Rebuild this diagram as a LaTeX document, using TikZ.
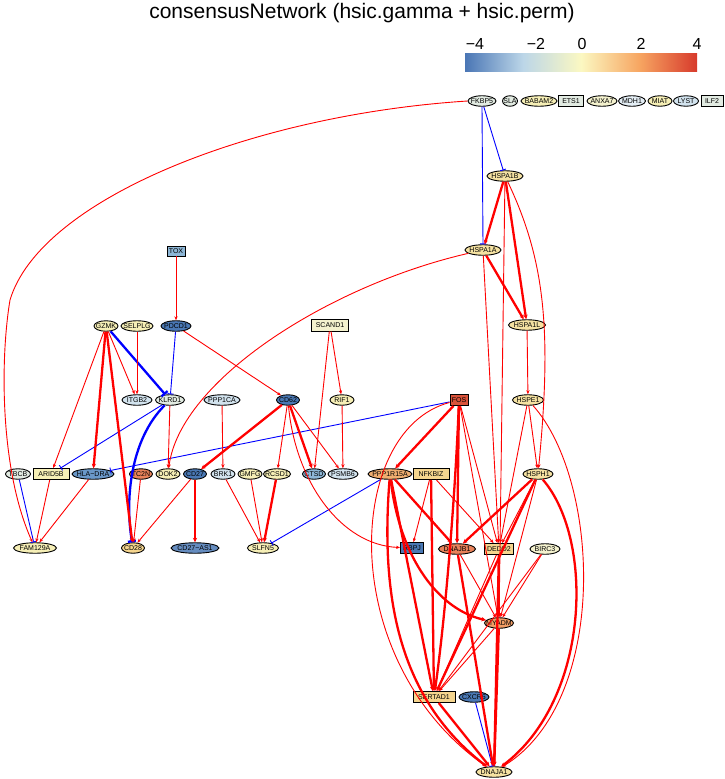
\documentclass[tikz,border=0pt]{standalone}
\usepackage{fontspec}
\setmainfont{Liberation Sans}
\usetikzlibrary{shapes.geometric,arrows.meta}
\newcommand{\zt}[1]{\makebox[0pt][c]{#1}}
\definecolor{cb0}{HTML}{4A76B5}
\definecolor{cb1}{HTML}{BCD6E8}
\definecolor{cb2}{HTML}{FBF8C2}
\definecolor{cb3}{HTML}{F7A662}
\definecolor{cb4}{HTML}{D73A2C}
\pgfdeclarehorizontalshading{rdylbu}{100bp}{color(0bp)=(cb0); color(25bp)=(cb0); color(37.5bp)=(cb1); color(50bp)=(cb2); color(62.5bp)=(cb3); color(75bp)=(cb4); color(100bp)=(cb4)}
\definecolor{dkb}{HTML}{4A78B4}
\definecolor{mdb}{HTML}{6A98C8}
\definecolor{ltb}{HTML}{8DB6D6}
\definecolor{plb}{HTML}{D2E3EE}
\definecolor{grn}{HTML}{E2EBE2}
\definecolor{lyl}{HTML}{F6EFB6}
\definecolor{yel}{HTML}{F5E2A2}
\definecolor{org}{HTML}{F5D58E}
\definecolor{ora}{HTML}{F0AE70}
\definecolor{rdo}{HTML}{E8825A}
\definecolor{red2}{HTML}{D9533A}
\definecolor{pal}{HTML}{F4F2CE}
\begin{document}
\begin{tikzpicture}[x=1pt,y=-1pt,
  every node/.style={font=\fontsize{7}{8}\selectfont, text=black, inner sep=0pt},
  en/.style={ellipse, draw=black, line width=0.9pt, minimum height=10.5pt, minimum width=#1},
  bn/.style={rectangle, draw=black, line width=0.9pt, minimum height=11pt, minimum width=#1},
  rt/.style={draw=red, line width=0.9pt, -{Stealth[length=4pt,width=3.2pt]}},
  rT/.style={draw=red, line width=2.3pt, -{Stealth[length=4.5pt,width=4.2pt]}},
  bt/.style={draw=blue, line width=0.9pt, -{Bar[width=6pt]}},
  bT/.style={draw=blue, line width=2.3pt, -{Bar[width=8pt]}},
]
\useasboundingbox (0,0) rectangle (725,779);
% title
\node (title) at (362,13) {\fontsize{21}{24}\selectfont consensusNetwork (hsic.gamma + hsic.perm)};
% colour bar
\shade[shading=rdylbu] (465,53) rectangle (697,71);
\node (t1) at (475,44) {\fontsize{16}{18}\selectfont −4};
\node (t2) at (536,44) {\fontsize{16}{18}\selectfont −2};
\node (t3) at (582,44) {\fontsize{16}{18}\selectfont 0};
\node (t4) at (641,44) {\fontsize{16}{18}\selectfont 2};
\node (t5) at (697,44) {\fontsize{16}{18}\selectfont 4};
% top row
\node[en=28,fill=grn] (FKBP5) at (482,101) {\zt{FKBP5}};
\node[en=15,fill=grn] (SLA) at (510,101) {\zt{SLA}};
\node[en=36,fill=lyl] (BABAM2) at (539,101) {\zt{BABAM2}};
\node[bn=25,fill=grn] (ETS1) at (571,101) {\zt{ETS1}};
\node[en=30,fill=pal] (ANXA7) at (602,101) {\zt{ANXA7}};
\node[en=27,fill=plb!60!white] (MDH1) at (632,101) {\zt{MDH1}};
\node[en=24,fill=lyl] (MIAT) at (660,101) {\zt{MIAT}};
\node[en=25,fill=plb] (LYST) at (686,101) {\zt{LYST}};
\node[bn=22,fill=grn] (ILF2) at (712,101) {\zt{ILF2}};
% heat shock
\node[en=36,fill=yel] (HSPA1B) at (505,176) {\zt{HSPA1B}};
\node[en=36,fill=yel] (HSPA1A) at (483,250) {\zt{HSPA1A}};
\node[en=37,fill=yel] (HSPA1L) at (527,325) {\zt{HSPA1L}};
\node[en=31,fill=yel] (HSPE1) at (528,400) {\zt{HSPE1}};
\node[en=30,fill=yel] (HSPH1) at (538,474) {\zt{HSPH1}};
% left
\node[bn=18,minimum height=10pt,fill=ltb] (TOX) at (176,251) {\zt{TOX}};
\node[en=24,fill=lyl] (GZMK) at (106,326) {\zt{GZMK}};
\node[en=32,fill=lyl] (SELPLG) at (137,326) {\zt{SELPLG}};
\node[en=30,fill=dkb] (PDCD1) at (176,326) {\zt{PDCD1}};
\node[bn=37,minimum height=12pt,fill=pal] (SCAND1) at (330,325) {\zt{SCAND1}};
\node[en=30,fill=plb] (ITGB2) at (137,400) {\zt{ITGB2}};
\node[en=29,fill=grn] (KLRD1) at (170,400) {\zt{KLRD1}};
\node[en=36,fill=plb] (PPP1CA) at (222,400) {\zt{PPP1CA}};
\node[en=23,fill=dkb] (CD62) at (288,400) {\zt{CD62}};
\node[en=24,fill=lyl] (RIF1) at (342,400) {\zt{RIF1}};
\node[bn=18,fill=red2] (FOS) at (459,400) {\zt{FOS}};
% row 474
\node[en=25,fill=grn] (TBCB) at (18,474) {\zt{TBCB}};
\node[bn=36,fill=lyl] (ARID5B) at (51,474) {\zt{ARID5B}};
\node[en=42,fill=mdb] (HLADRA) at (93,474) {\zt{HLA−DRA}};
\node[en=23,fill=rdo] (TC2N) at (141,474) {\zt{TC2N}};
\node[en=24,fill=lyl] (DOK2) at (168,474) {\zt{DOK2}};
\node[en=23,fill=dkb] (CD27) at (195,474) {\zt{CD27}};
\node[en=24,fill=plb] (BRK1) at (223,474) {\zt{BRK1}};
\node[en=24,fill=lyl] (GMFG) at (250,474) {\zt{GMFG}};
\node[en=27,fill=lyl] (RCSD1) at (277,474) {\zt{RCSD1}};
\node[en=23,fill=ltb] (CTSD) at (314,474) {\zt{CTSD}};
\node[en=30,fill=plb] (PSMB6) at (343,474) {\zt{PSMB6}};
\node[en=44,fill=ora] (PPP1R15A) at (390,474) {\zt{PPP1R15A}};
\node[bn=36,fill=org] (NFKBIZ) at (431,474) {\zt{NFKBIZ}};
% row 548
\node[en=43,fill=lyl] (FAM129A) at (35,548) {\zt{FAM129A}};
\node[en=23,fill=org] (CD28) at (133,548) {\zt{CD28}};
\node[en=48,fill=dkb!85!white] (CD27AS1) at (195,548) {\zt{CD27−AS1}};
\node[en=31,fill=lyl] (SLFN5) at (263,548) {\zt{SLFN5}};
\node[bn=23,fill=dkb] (RBPJ) at (412,548) {\zt{RBPJ}};
\node[en=37,fill=rdo] (DNAJB1) at (457,549) {\zt{DNAJB1}};
\node[bn=29,fill=org] (DEDD2) at (499,549) {\zt{DEDD2}};
\node[en=30,fill=pal] (BIRC3) at (545,549) {\zt{BIRC3}};
\node[en=29,fill=ora!90!red] (MYADM) at (499,623) {\zt{MYADM}};
\node[bn=42,fill=org] (SERTAD1) at (434,697) {\zt{SERTAD1}};
\node[en=30,fill=dkb] (CXCR6) at (474,697) {\zt{CXCR6}};
\node[en=36,fill=yel] (DNAJA1) at (494,772) {\zt{DNAJA1}};
% ---- blue edges
\draw[bt] (FKBP5) -- (HSPA1B);
\draw[bt] (FKBP5.south) -- (HSPA1A.north);
\draw[bT] (GZMK) -- (KLRD1);
\draw[bT] (KLRD1) .. controls (130,440) and (125,500) .. (CD28);
\draw[bt] (PDCD1) -- (KLRD1);
\draw[bt] (KLRD1) -- (ARID5B);
\draw[bt] (FOS) -- (HLADRA);
\draw[bt] (TBCB) -- (FAM129A);
\draw[bt] (PPP1R15A) -- (SLFN5);
\draw[bt] (CXCR6) -- (DNAJA1);
% ---- red edges, left part
\draw[rt] (FKBP5.west) .. controls (250,115) and (40,200) .. (10,300) .. controls (0,360) and (0,470) .. (FAM129A);
\draw[rt] (TOX) -- (PDCD1);
\draw[rt] (PDCD1) -- (CD62);
\draw[rt] (SELPLG) -- (ITGB2);
\draw[rt] (GZMK) -- (ITGB2);
\draw[rt] (GZMK) -- (ARID5B);
\draw[rT] (GZMK) -- (HLADRA);
\draw[rT] (GZMK) -- (CD28);
\draw[rt] (KLRD1) -- (DOK2);
\draw[rt] (HSPA1A) .. controls (330,285) and (180,380) .. (DOK2);
\draw[rt] (ARID5B) -- (FAM129A);
\draw[rt] (HLADRA) -- (FAM129A);
\draw[rt] (TC2N) -- (CD28);
\draw[rt] (CD27) -- (CD28);
\draw[rT] (CD27) -- (CD27AS1);
\draw[rt] (PPP1CA) -- (BRK1);
\draw[rt] (BRK1) -- (SLFN5);
\draw[rt] (GMFG) -- (SLFN5);
\draw[rT] (RCSD1) -- (SLFN5);
\draw[rT] (CD62) -- (CD27);
\draw[rt] (CD62) -- (RCSD1);
\draw[rT] (CD62) -- (CTSD);
\draw[rt] (CD62) -- (PSMB6);
\draw[rt] (CD62) .. controls (295,480) and (340,545) .. (RBPJ);
\draw[rt] (SCAND1) -- (RIF1);
\draw[rt] (SCAND1) -- (CTSD);
\draw[rt] (RIF1) -- (PSMB6);
% ---- red edges, right part
\draw[rT] (HSPA1B) -- (HSPA1A);
\draw[rT] (HSPA1A) -- (HSPA1L);
\draw[rT] (HSPA1B) -- (HSPA1L);
\draw[rt] (HSPA1B) .. controls (545,260) and (552,330) .. (HSPH1);
\draw[rt] (HSPA1L) -- (HSPE1);
\draw[rt] (HSPE1) -- (HSPH1);
\draw[rt] (HSPA1A) -- (DEDD2);
\draw[rt] (HSPA1B) -- (MYADM);
\draw[rT] (FOS) -- (PPP1R15A);
\draw[rT] (FOS) -- (DNAJB1);
\draw[rT] (FOS) .. controls (455,500) and (445,620) .. (SERTAD1);
\draw[rt] (FOS) -- (DEDD2);
\draw[rt] (FOS) -- (MYADM);
\draw[rt] (FOS) .. controls (345,430) and (335,660) .. (DNAJA1);
\draw[rT] (PPP1R15A) -- (DNAJB1);
\draw[rT] (PPP1R15A) .. controls (400,560) and (440,610) .. (MYADM);
\draw[rT] (PPP1R15A) -- (SERTAD1);
\draw[rT] (PPP1R15A) .. controls (380,600) and (400,700) .. (DNAJA1);
\draw[rt] (NFKBIZ) -- (RBPJ);
\draw[rT] (NFKBIZ) -- (SERTAD1);
\draw[rt] (NFKBIZ) -- (DEDD2);
\draw[rT] (HSPH1) -- (DNAJB1);
\draw[rT] (HSPH1) -- (SERTAD1);
\draw[rt] (HSPH1) -- (DEDD2);
\draw[rt] (HSPH1) -- (MYADM);
\draw[rT] (HSPH1) .. controls (595,540) and (590,700) .. (DNAJA1);
\draw[rt] (HSPE1) -- (DEDD2);
\draw[rt] (HSPE1) .. controls (600,480) and (610,700) .. (DNAJA1);
\draw[rt] (DNAJB1) -- (MYADM);
\draw[rT] (DNAJB1) -- (DNAJA1);
\draw[rT] (DEDD2) -- (MYADM);
\draw[rt] (DEDD2) -- (SERTAD1);
\draw[rT] (DEDD2) -- (DNAJA1);
\draw[rt] (BIRC3) -- (MYADM);
\draw[rt] (BIRC3) -- (SERTAD1);
\draw[rt] (MYADM) -- (SERTAD1);
\draw[rT] (MYADM) -- (DNAJA1);
\draw[rT] (SERTAD1) -- (DNAJA1);
\end{tikzpicture}
\end{document}
